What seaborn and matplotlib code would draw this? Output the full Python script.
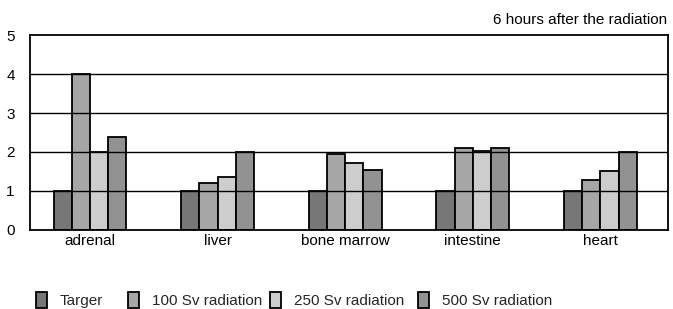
import matplotlib
matplotlib.use("Agg")
import matplotlib.pyplot as plt
import numpy as np
import pandas as pd
import seaborn as sns

organs = ["adrenal", "liver", "bone marrow", "intestine", "heart"]
series = ["Targer", "100 Sv radiation", "250 Sv radiation", "500 Sv radiation"]
targer = [1.0, 1.0, 1.0, 1.0, 1.0]
sv100 = [4.0, 1.2, 1.95, 2.09, 1.28]
sv250 = [1.99, 1.36, 1.72, 2.02, 1.51]
sv500 = [2.38, 2.0, 1.53, 2.11, 2.0]
colors = ["#777777", "#a6a6a6", "#cdcdcd", "#929292"]

sns.set_theme(style="white")
plt.rcParams["font.family"] = ["Liberation Sans Narrow", "Liberation Sans", "DejaVu Sans"]

rows = []
for name, vals in zip(series, [targer, sv100, sv250, sv500]):
    for organ, v in zip(organs, vals):
        rows.append({"organ": organ, "series": name, "value": v})
df = pd.DataFrame(rows)

fig = plt.figure(figsize=(6.73, 3.09), dpi=100)
ax = fig.add_axes([0.0446, 0.2557, 0.948, 0.631])
sns.barplot(data=df, x="organ", y="value", hue="series", order=organs,
            hue_order=series, palette=colors, width=0.57, gap=0,
            edgecolor="black", linewidth=1.3, ax=ax, legend=True)

for y in [1, 2, 3, 4]:
    ax.axhline(y, color="black", linewidth=1.0, zorder=5)

ax.set_ylim(0, 5)
ax.set_xlim(-0.47, 4.53)
ax.set_yticks([0, 1, 2, 3, 4, 5])
ax.set_xlabel("")
ax.set_ylabel("")
ax.tick_params(axis="both", length=0, labelsize=11, colors="black", pad=3)
ax.tick_params(axis="y", pad=11)
for s in ax.spines.values():
    s.set_visible(True)
    s.set_color("black")
    s.set_linewidth(1.3)

# one legend entry per slot, spread like the original
handles, labels = ax.get_legend_handles_labels()
ax.get_legend().remove()
legend_x = [36, 128, 270, 418]
for h, lab, px in zip(handles, labels, legend_x):
    fig.legend([h], [lab], loc="center left", frameon=False,
               bbox_to_anchor=(px / 673, 1 - 300 / 309), fontsize=11,
               handlelength=0.75, handleheight=1.25, handletextpad=0.8,
               borderaxespad=0, borderpad=0)

fig.text(0.992, 0.912, "6 hours after the radiation", ha="right", va="bottom",
         fontsize=11, color="black")

fig.savefig("out.png", dpi=100)
